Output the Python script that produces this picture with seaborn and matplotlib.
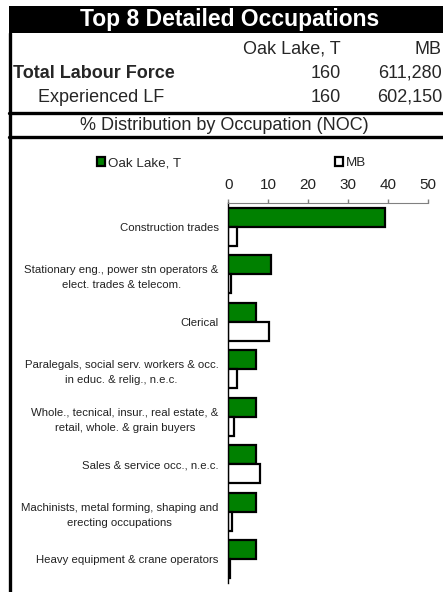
import matplotlib
matplotlib.use('Agg')
from matplotlib import pyplot as plt
from matplotlib.patches import Rectangle, Patch
from matplotlib.lines import Line2D
import seaborn as sns
import numpy as np
import pandas as pd

# dados
ocupacoes = ['Construction trades',
             'Stationary eng., power stn operators &\nelect. trades & telecom.',
             'Clerical',
             'Paralegals, social serv. workers & occ.\nin educ. & relig., n.e.c.',
             'Whole., tecnical, insur., real estate, &\nretail, whole. & grain buyers',
             'Sales & service occ., n.e.c.',
             'Machinists, metal forming, shaping and\nerecting occupations',
             'Heavy equipment & crane operators']
oak_lake = [39.2, 10.6, 6.9, 6.9, 6.9, 6.9, 6.9, 6.9]
mb = [2.1, 0.75, 10.2, 2.2, 1.5, 7.9, 1.0, 0.35]
regioes = ['Oak Lake, T', 'MB']
total_lf = ['160', '611,280']
experienced_lf = ['160', '602,150']
xticks = [0, 10, 20, 30, 40, 50]

df = pd.DataFrame({'ocupacao': ocupacoes * 2,
                   'regiao': [regioes[0]] * len(ocupacoes) + [regioes[1]] * len(ocupacoes),
                   'valor': oak_lake + mb})

sns.set_style('white')
plt.rcParams['font.family'] = ['Liberation Sans', 'DejaVu Sans']

W, H = 443, 592
fig = plt.figure(figsize=(W / 100, H / 100), dpi=100)

def fx(px):
    return px / W

def fy(py):
    return 1 - py / H

ax = fig.add_axes([fx(228.3), fy(583), fx(427.7) - fx(228.3), fy(203) - fy(583)])

cores = {'Oak Lake, T': '#008000', 'MB': 'white'}
sns.barplot(data=df, y='ocupacao', x='valor', hue='regiao', orient='h',
            palette=cores, edgecolor='black', linewidth=1.6, width=0.8,
            saturation=1, legend=False, ax=ax)

ax.set_xlim(0, 50)
ax.set_ylim(7.5, -0.5)
ax.set_xticks(xticks)
ax.xaxis.tick_top()
ax.tick_params(axis='x', colors='#808080', length=3, width=1, direction='out',
               labelsize=11, labelcolor='#222222', pad=5)
ax.set_xlabel('')
ax.set_ylabel('')

# marcas de separação das categorias
ax.set_yticks(np.arange(-0.5, 8, 1), minor=True)
ax.tick_params(axis='y', which='minor', length=3, width=1, color='black', direction='out')
ax.tick_params(axis='y', which='major', length=0, labelsize=8.2, pad=7, labelcolor='#222222')
for lbl in ax.get_yticklabels():
    lbl.set_multialignment('center')
    lbl.set_linespacing(1.65)

ax.spines['top'].set_color('#808080')
ax.spines['left'].set_color('black')
ax.spines['left'].set_linewidth(1)
ax.spines['right'].set_visible(False)
ax.spines['bottom'].set_visible(False)

# legenda
handles = [Patch(facecolor=cores[r], edgecolor='black', linewidth=1.6) for r in regioes]
fig.legend(handles, regioes, loc='center left', bbox_to_anchor=(fx(97), fy(163)),
           ncol=2, frameon=False, fontsize=9.6, handlelength=0.6, handleheight=0.6,
           handletextpad=0.2, columnspacing=11.6, borderpad=0, borderaxespad=0)

# cabeçalho
fig.add_artist(Rectangle((fx(9), fy(33)), 1 - fx(9), fy(6) - fy(33),
                         transform=fig.transFigure, facecolor='black', edgecolor='none'))
fig.text(fx(230), fy(19.5), 'Top 8 Detailed Occupations', color='white',
         fontsize=16.5, fontweight='bold', ha='center', va='center')

fig.text(fx(341), fy(49), regioes[0], fontsize=13, ha='right', va='center')
fig.text(fx(442), fy(49), regioes[1], fontsize=13, ha='right', va='center')
fig.text(fx(13), fy(73), 'Total Labour Force', fontsize=13, fontweight='bold', ha='left', va='center')
fig.text(fx(341), fy(73), total_lf[0], fontsize=13, ha='right', va='center')
fig.text(fx(442), fy(73), total_lf[1], fontsize=13, ha='right', va='center')
fig.text(fx(38), fy(97), 'Experienced LF', fontsize=13, ha='left', va='center')
fig.text(fx(341), fy(97), experienced_lf[0], fontsize=13, ha='right', va='center')
fig.text(fx(442), fy(97), experienced_lf[1], fontsize=13, ha='right', va='center')
fig.text(fx(224), fy(125.5), '% Distribution by Occupation (NOC)', fontsize=13,
         ha='center', va='center')

# linhas da tabela
for y in [112.5, 137]:
    fig.add_artist(Line2D([fx(9), 1], [fy(y), fy(y)], color='black', lw=2.4,
                          transform=fig.transFigure))
fig.add_artist(Line2D([fx(10), fx(10)], [fy(33), 0], color='black', lw=2.4,
                      transform=fig.transFigure))

fig.savefig('out.png', dpi=100)
